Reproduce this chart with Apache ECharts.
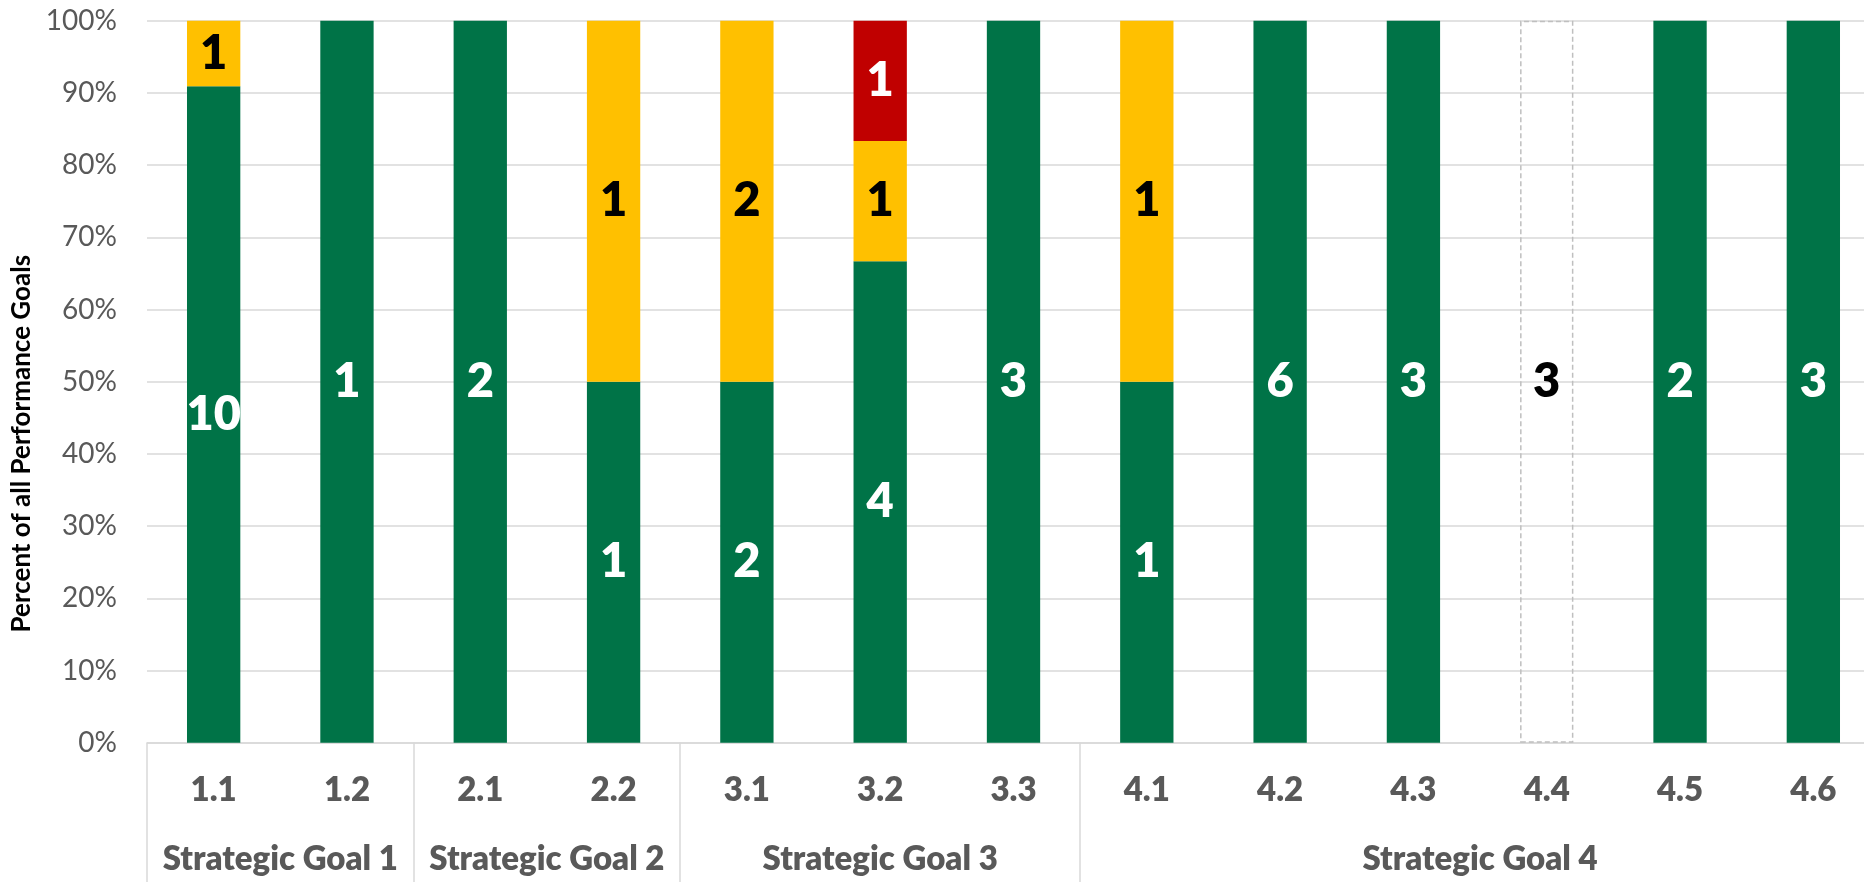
<!DOCTYPE html>
<html>
<head>
<meta charset="utf-8">
<script src="https://cdn.jsdelivr.net/npm/echarts@6/dist/echarts.min.js"></script>
<style>
  html, body { margin: 0; padding: 0; background: #fff; }
  #chart { width: 1864px; height: 882px; }
</style>
</head>
<body>
<div id="chart"></div>
<script>
// Performance goal status counts per objective
const categories = ['1.1', '1.2', '2.1', '2.2', '3.1', '3.2', '3.3', '4.1', '4.2', '4.3', '4.4', '4.5', '4.6'];
const metCounts = [10, 1, 2, 1, 2, 4, 3, 1, 6, 3, null, 2, 3];
const partialCounts = [1, null, null, 1, 2, 1, null, 1, null, null, null, null, null];
const notMetCounts = [null, null, null, null, null, 1, null, null, null, null, null, null, null];
const pendingCounts = [null, null, null, null, null, null, null, null, null, null, 3, null, null];
const groupNames = ['Strategic Goal 1', 'Strategic Goal 2', 'Strategic Goal 3', 'Strategic Goal 4'];
const groupSizes = [2, 2, 3, 6];
const yMin = 0, yMax = 100, yStep = 10;

const FONT = 'Lato, "Open Sans", sans-serif';

// totals per objective, used to turn counts into shares of 100%
const totals = categories.map((_, i) =>
  [metCounts, partialCounts, notMetCounts, pendingCounts].reduce((s, arr) => s + (arr[i] || 0), 0));
const toPercent = arr => arr.map((c, i) => (c == null ? null : c / totals[i] * 100));

// group boundaries and centres, in category units
const groupBounds = [0];
groupSizes.forEach(n => groupBounds.push(groupBounds[groupBounds.length - 1] + n));
const groupCenters = groupSizes.map((n, i) => groupBounds[i] + n / 2);

function barSeries(name, counts, color, labelColor, extraStyle) {
  return {
    name: name,
    type: 'bar',
    stack: 'all',
    xAxisIndex: 0,
    barWidth: '40%',
    data: toPercent(counts),
    itemStyle: Object.assign({ color: color }, extraStyle || {}),
    label: {
      show: true,
      position: 'inside',
      color: labelColor,
      fontFamily: FONT,
      fontWeight: 800,
      fontSize: 47,
      formatter: p => (counts[p.dataIndex] == null ? '' : String(counts[p.dataIndex]))
    },
    emphasis: { disabled: true }
  };
}

const chart = echarts.init(document.getElementById('chart'), null, { renderer: 'canvas' });
chart.setOption({
  animation: false,
  backgroundColor: '#ffffff',
  // the plot runs a little past the right edge of the canvas
  grid: { left: 147, top: 20.7, width: 1733, height: 722, outerBoundsMode: 'none', containLabel: false },
  xAxis: [
    {
      type: 'category',
      data: categories,
      position: 'bottom',
      axisLine: { show: true, lineStyle: { color: '#d9d9d9', width: 1.5 } },
      axisTick: { show: false },
      axisLabel: {
        margin: 31,
        color: '#595959',
        fontFamily: FONT,
        fontWeight: 800,
        fontSize: 33
      },
      splitLine: { show: false }
    },
    {
      type: 'value',
      min: 0,
      max: categories.length,
      position: 'bottom',
      axisLine: { show: false },
      splitLine: { show: false },
      axisTick: {
        show: true,
        inside: false,
        length: 140,
        customValues: groupBounds,
        lineStyle: { color: '#d9d9d9', width: 1.5 }
      },
      axisLabel: {
        show: true,
        customValues: groupCenters,
        margin: 100,
        color: '#595959',
        fontFamily: FONT,
        fontWeight: 800,
        fontSize: 33,
        formatter: v => {
          const idx = groupCenters.findIndex(c => Math.abs(c - v) < 1e-6);
          return idx >= 0 ? groupNames[idx] : '';
        }
      }
    }
  ],
  yAxis: {
    type: 'value',
    min: yMin,
    max: yMax,
    interval: yStep,
    name: 'Percent of all Performance Goals',
    nameLocation: 'middle',
    nameRotate: 90,
    nameGap: 108,
    nameTextStyle: {
      color: '#000000',
      fontFamily: FONT,
      fontWeight: 'bold',
      fontSize: 26,
      padding: [0, 124, 0, 0]
    },
    axisLine: { show: false },
    axisTick: { show: false },
    axisLabel: {
      margin: 30,
      color: '#595959',
      fontFamily: FONT,
      fontSize: 28,
      formatter: '{value}%'
    },
    splitLine: { show: true, lineStyle: { color: '#d9d9d9', width: 1.5 } }
  },
  series: [
    barSeries('Met', metCounts, '#007347', '#ffffff'),
    barSeries('Partially met', partialCounts, '#ffc000', '#000000'),
    barSeries('Not met', notMetCounts, '#c00000', '#ffffff'),
    barSeries('Not yet reported', pendingCounts, 'rgba(255,255,255,0)', '#000000',
      { borderColor: '#bfbfbf', borderWidth: 1.5, borderType: [5, 3] })
  ]
});
</script>
</body>
</html>
